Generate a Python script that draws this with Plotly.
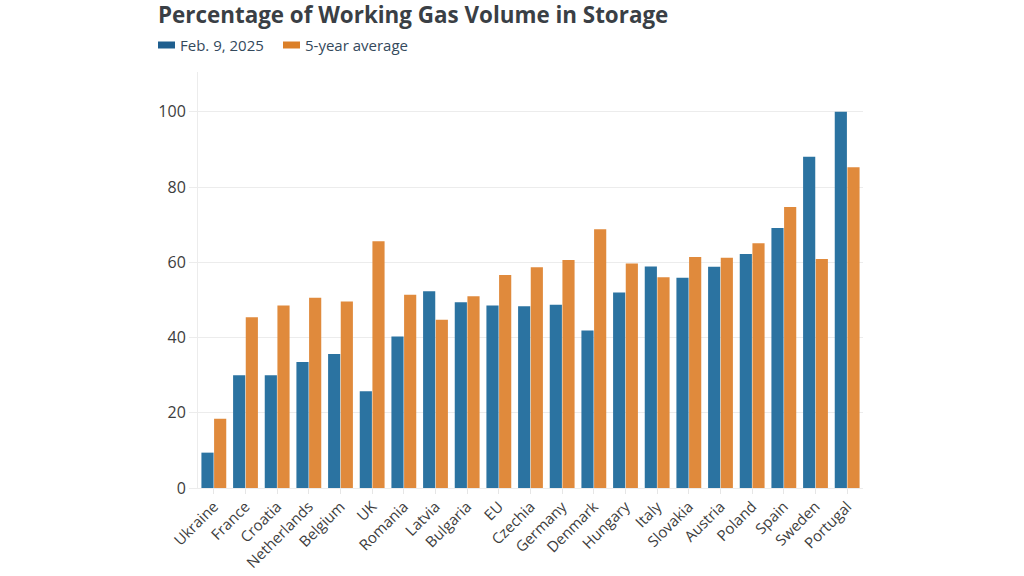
import plotly.graph_objects as go

countries = ["Ukraine", "France", "Croatia", "Netherlands", "Belgium", "UK", "Romania",
             "Latvia", "Bulgaria", "EU", "Czechia", "Germany", "Denmark", "Hungary",
             "Italy", "Slovakia", "Austria", "Poland", "Spain", "Sweden", "Portugal"]
feb_2025 = [9.4, 30.0, 30.0, 33.5, 35.6, 25.7, 40.3, 52.3, 49.4, 48.5, 48.3, 48.7,
            41.9, 52.0, 58.9, 55.9, 58.8, 62.2, 69.1, 88.1, 100.0]
avg_5yr = [18.4, 45.4, 48.5, 50.6, 49.6, 65.6, 51.4, 44.7, 51.0, 56.6, 58.7, 60.6,
           68.8, 59.7, 56.0, 61.4, 61.2, 65.1, 74.7, 60.9, 85.3]
y_ticks = [0, 20, 40, 60, 80, 100]
series_names = ["Feb. 9, 2025", "5-year average"]

BLUE = "#2b73a1"
ORANGE = "#e08a3c"
SW_BLUE = "#1f5f8f"
SW_ORANGE = "#db7f28"

W, H = 1024, 576
L, R, T, B = 198, 161, 72, 88
PW, PH = W - L - R, H - T - B


def px_x(px):
    return (px - L) / PW


def px_y(py):
    return (H - B - py) / PH


fig = go.Figure()
fig.add_trace(go.Bar(x=countries, y=feb_2025, name=series_names[0],
                     marker=dict(color=BLUE, line=dict(width=0))))
fig.add_trace(go.Bar(x=countries, y=avg_5yr, name=series_names[1],
                     marker=dict(color=ORANGE, line=dict(width=0))))

# manual legend (swatches + labels)
legend_items = [(158, SW_BLUE, series_names[0]), (283, SW_ORANGE, series_names[1])]
for x0, col, label in legend_items:
    fig.add_shape(type="rect", xref="paper", yref="paper",
                  x0=px_x(x0), x1=px_x(x0 + 17), y0=px_y(48.5), y1=px_y(41.5),
                  fillcolor=col, line=dict(width=0), layer="above")
    fig.add_annotation(xref="paper", yref="paper", x=px_x(x0 + 20), y=px_y(45),
                       xanchor="left", yanchor="middle", showarrow=False,
                       text=label, font=dict(family="Open Sans", size=15, color="#34495c"))

fig.update_layout(
    width=W, height=H,
    margin=dict(l=L, r=R, t=T, b=B, autoexpand=False),
    paper_bgcolor="white", plot_bgcolor="white",
    font=dict(family="Open Sans", color="#3d3d3d", size=14),
    barmode="group", bargap=0.2, bargroupgap=0.04,
    title=dict(text="<b>Percentage of Working Gas Volume in Storage</b>",
               xref="container", yref="container", x=158 / W, xanchor="left",
               y=1 - 15 / H, yanchor="middle",
               font=dict(family="Open Sans", size=22.4, color="#3a3f45")),
    showlegend=False,
)
fig.update_xaxes(showgrid=False, showline=True, linecolor="#ececec", linewidth=1,
                 ticks="outside", ticklen=5, tickcolor="#e6e6e6",
                 tickangle=-45, ticklabelstandoff=-2,
                 tickfont=dict(size=15, color="#3d3d3d"))
fig.update_yaxes(range=[0, 110.6], tickvals=y_ticks, showgrid=True, gridcolor="#ececec",
                 showline=True, linecolor="#ececec", linewidth=1,
                 ticks="outside", ticklen=8, tickcolor="#ececec",
                 zeroline=False,
                 tickfont=dict(size=16, color="#3d3d3d"))

fig.write_html("out.html", config={"displayModeBar": False},
               post_script="document.body.style.margin='0';")
